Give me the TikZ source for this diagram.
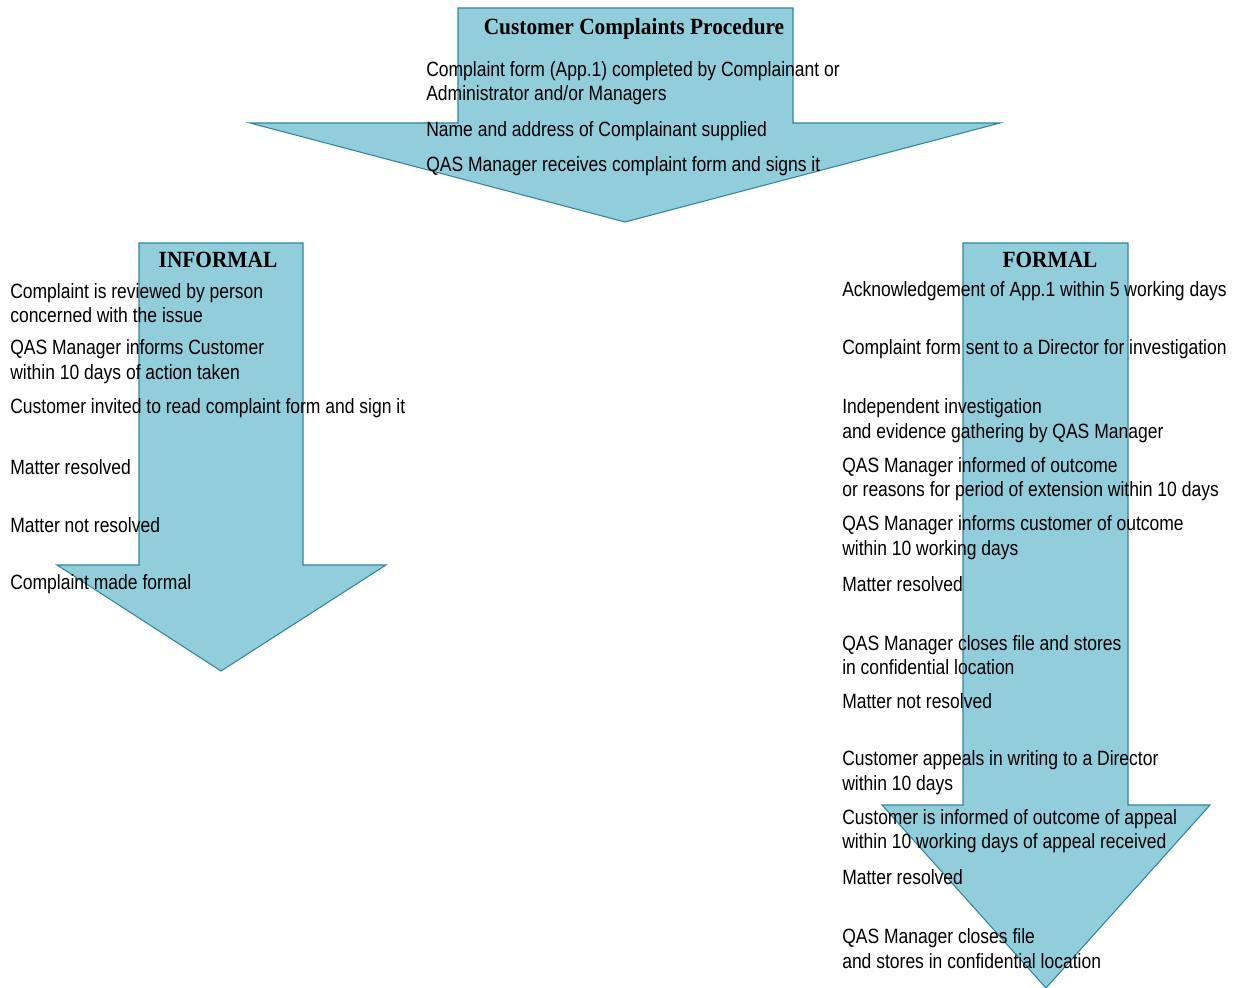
\documentclass[tikz,border=0pt]{standalone}
\usepackage{fontspec}
\setmainfont{Liberation Sans}[FakeStretch=0.847]
\newfontfamily\headfont{Liberation Serif}[FakeStretch=0.92]
\definecolor{arrowfill}{RGB}{146,205,220}
\definecolor{arrowline}{RGB}{49,133,156}
\begin{document}
\begin{tikzpicture}[x=0.75pt,y=-0.75pt,
  bigarrow/.style={fill=arrowfill,draw=arrowline,line width=0.8pt,line join=miter},
  txt/.style={anchor=west,align=left,inner sep=0pt,font=\fontsize{15.5pt}{18.3pt}\selectfont,text=black},
  head/.style={anchor=center,inner sep=0pt,font=\headfont\bfseries\fontsize{17.4pt}{20pt}\selectfont}]
\useasboundingbox (0,0) rectangle (1235,988);
% arrows
\draw[bigarrow] (458,8) -- (793,8) -- (793,123) -- (1000,123) -- (625,222) -- (250,123) -- (458,123) -- cycle;
\draw[bigarrow] (139,243) -- (303,243) -- (303,565) -- (386,565) -- (221,671) -- (57,565) -- (139,565) -- cycle;
\draw[bigarrow] (963,243) -- (1128,243) -- (1128,805) -- (1210,805) -- (1046,988) -- (882,805) -- (963,805) -- cycle;
% top
\node[head] (title) at (634,29) {Customer Complaints Procedure};
\node[txt] (t1) at (426,83) {Complaint form (App.1) completed by Complainant or\\Administrator and/or Managers};
\node[txt] (t2) at (426,131) {Name and address of Complainant supplied};
\node[txt] (t3) at (426,166) {QAS Manager receives complaint form and signs it};
% informal
\node[head] (inf) at (218,260) {INFORMAL};
\node[txt] (i1) at (10,303) {Complaint is reviewed by person\\concerned with the issue};
\node[txt] (i2) at (10,361.5) {QAS Manager informs Customer\\within 10 days of action taken};
\node[txt] (i3) at (10,408) {Customer invited to read complaint form and sign it};
\node[txt] (i4) at (10,467) {Matter resolved};
\node[txt] (i5) at (10,525) {Matter not resolved};
\node[txt] (i6) at (10,584) {Complaint made formal};
% formal
\node[head] (frm) at (1050,260) {FORMAL};
\node[txt] (f1) at (842,291) {Acknowledgement of App.1 within 5 working days};
\node[txt] (f2) at (842,349) {Complaint form sent to a Director for investigation};
\node[txt] (f3) at (842,420.5) {Independent investigation\\and evidence gathering by QAS Manager};
\node[txt] (f4) at (842,479) {QAS Manager informed of outcome\\or reasons for period of extension within 10 days};
\node[txt] (f5) at (842,537.5) {QAS Manager informs customer of outcome\\within 10 working days};
\node[txt] (f6) at (842,584) {Matter resolved};
\node[txt] (f7) at (842,655) {QAS Manager closes file and stores\\in confidential location};
\node[txt] (f8) at (842,701) {Matter not resolved};
\node[txt] (f9) at (842,772.5) {Customer appeals in writing to a Director\\within 10 days};
\node[txt] (f10) at (842,831) {Customer is informed of outcome of appeal\\within 10 working days of appeal received};
\node[txt] (f11) at (842,877) {Matter resolved};
\node[txt] (f12) at (842,948.5) {QAS Manager closes file\\and stores in confidential location};
\end{tikzpicture}
\end{document}
